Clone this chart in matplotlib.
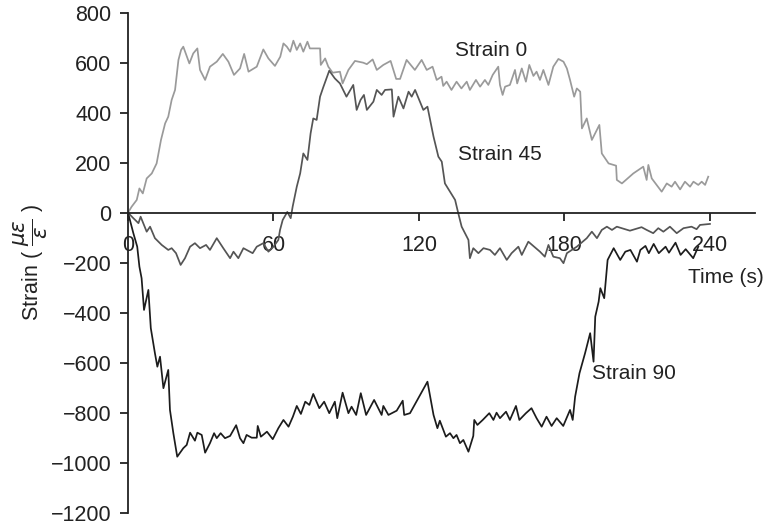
import matplotlib
matplotlib.use("Agg")
import matplotlib.pyplot as plt

plt.rcParams['font.family'] = ['Liberation Sans', 'DejaVu Sans']
plt.rcParams['mathtext.fontset'] = 'dejavusans'

# ---- data (time in s, strain in micro-strain) ----
t0 = [0, 1.5, 3.6, 4.7, 6.1, 7.7, 9.8, 11.8, 13.6, 15.3, 16.6, 18.0, 19.4, 20.8, 21.9, 22.8, 25.3, 26.9,
      28.6, 29.7, 31.8, 33.8, 36.6, 39.1, 41.4, 43.7, 46.2, 47.9, 49.7, 53.1, 55.8, 57.9, 60.6, 62.8, 64.1,
      65.5, 66.9, 68.2, 69.6, 71.0, 72.3, 74.0, 75.0, 79.2, 79.5, 81.3, 82.6, 84.4, 87.4, 88.5, 90.9, 93.6,
      97.0, 98.5, 100.9, 102.6, 105.3, 108.3, 110.6, 112.2, 114.9, 118.3, 121.1, 123.2, 125.6, 127.3, 129.3,
      130.0, 131.4, 133.4, 135.5, 137.5, 139.7, 141.0, 143.5, 145.2, 147.2, 148.6, 150.4, 152.7, 153.4, 154.5,
      155.5, 157.5, 159.6, 160.5, 162.4, 164.1, 165.5, 167.2, 168.5, 169.9, 171.3, 173.4, 175.4, 177.5, 179.6,
      181.0, 182.3, 184.0, 185.1, 186.5, 187.2, 189.2, 191.3, 194.4, 195.4, 198.2, 201.3, 201.6, 203.7, 208.4,
      212.5, 213.9, 214.6, 216.0, 220.1, 222.2, 224.2, 225.6, 227.7, 229.7, 231.8, 233.2, 235.2, 236.6, 238.0,
      239.3]
v0 = [0, 24, 51, 97, 77, 137, 157, 197, 291, 357, 384, 451, 491, 611, 651, 664, 597, 637, 657, 571, 531, 584,
      604, 635, 604, 551, 577, 635, 564, 584, 653, 617, 587, 624, 677, 664, 644, 688, 651, 677, 644, 684, 657,
      657, 591, 617, 584, 560, 564, 517, 571, 607, 600, 594, 613, 571, 591, 607, 535, 535, 611, 571, 611, 571,
      584, 531, 544, 507, 524, 491, 524, 497, 524, 491, 531, 504, 531, 511, 551, 584, 511, 471, 504, 511, 571,
      517, 577, 524, 591, 547, 564, 531, 571, 511, 584, 615, 604, 577, 531, 464, 497, 484, 337, 377, 291, 351,
      237, 197, 188, 131, 117, 157, 184, 131, 191, 137, 84, 117, 104, 124, 93, 124, 104, 124, 111, 124, 111, 144]

t45 = [0, 2.2, 4.3, 5.2, 7.7, 9.1, 11.1, 13.9, 16.6, 18.0, 19.8, 21.7, 23.5, 25.6, 27.6, 29.7, 32.2, 33.8,
       36.6, 39.3, 42.1, 43.5, 45.5, 47.6, 51.4, 53.1, 55.8, 57.9, 60.0, 62.0, 62.7, 63.8, 65.7, 67.1, 67.9,
       69.6, 71.0, 72.3, 74.0, 75.3, 76.4, 77.8, 79.2, 80.5, 83.0, 85.3, 87.4, 90.1, 92.9, 94.3, 95.9, 97.3,
       98.5, 101.2, 102.6, 104.6, 106.0, 108.8, 109.5, 111.5, 113.6, 115.7, 117.0, 118.4, 121.8, 123.5, 124.6,
       126.0, 128.0, 129.4, 130.7, 132.8, 134.9, 136.2, 137.6, 140.4, 141.0, 142.4, 144.5, 146.6, 149.3, 151.3,
       153.4, 156.2, 158.2, 161.0, 162.4, 165.1, 169.9, 171.9, 173.4, 175.4, 178.1, 179.6, 181.0, 185.1, 189.2,
       191.3, 193.4, 195.4, 197.5, 199.6, 201.6, 207.0, 211.8, 213.9, 216.6, 218.7, 220.8, 223.5, 226.3, 229.1,
       232.4, 234.5, 235.9, 240.0]
v45 = [0, -22, -42, -16, -76, -56, -102, -129, -149, -142, -162, -209, -182, -136, -122, -142, -129, -149, -102,
       -142, -182, -156, -182, -142, -162, -136, -122, -156, -136, -109, -69, -29, 3, -22, 24, 104, 157, 237, 211,
       317, 377, 371, 464, 501, 568, 537, 517, 464, 511, 411, 451, 471, 411, 444, 491, 471, 491, 493, 384, 464,
       417, 484, 464, 491, 411, 424, 371, 304, 224, 204, 117, 84, 51, -2, -56, -109, -182, -142, -162, -142,
       -149, -169, -142, -189, -162, -136, -169, -116, -156, -176, -129, -176, -182, -202, -162, -136, -102, -76,
       -102, -69, -56, -69, -56, -72, -58, -69, -82, -62, -76, -56, -82, -62, -56, -66, -49, -45]

t90 = [0, 2.2, 3.8, 4.7, 5.6, 6.6, 8.4, 9.4, 10.2, 11.1, 12.1, 13.2, 14.6, 16.6, 17.3, 18.7, 20.3, 22.8, 24.2,
       25.6, 27.6, 28.6, 30.4, 31.8, 33.8, 35.5, 36.6, 38.2, 40.0, 42.1, 44.6, 46.2, 47.6, 48.9, 51.0, 53.1,
       53.5, 54.8, 57.3, 59.7, 62.0, 64.1, 66.2, 68.0, 69.6, 71.3, 73.1, 74.8, 76.4, 78.9, 80.9, 83.0, 85.3,
       86.3, 88.5, 90.9, 92.2, 94.1, 96.0, 98.2, 101.5, 104.6, 105.3, 107.4, 110.8, 113.3, 113.9, 116.3, 123.5,
       126.0, 127.6, 128.6, 131.1, 132.8, 134.2, 135.5, 136.9, 138.3, 140.4, 142.4, 142.8, 144.1, 146.3, 149.0,
       150.7, 152.0, 153.4, 155.9, 157.5, 160.0, 161.4, 164.1, 166.4, 168.5, 170.6, 172.6, 174.7, 176.8, 179.5,
       182.3, 183.4, 184.4, 186.2, 188.5, 190.6, 192.0, 192.7, 194.1, 194.8, 196.4, 197.8, 200.3, 203.0, 205.1,
       207.2, 209.9, 211.3, 213.4, 214.8, 216.8, 218.9, 221.7, 223.1, 225.8, 227.9, 230.0, 233.1, 235.2]
v90 = [0, -82, -136, -216, -262, -389, -309, -462, -509, -562, -616, -576, -702, -629, -789, -882, -976, -942,
       -929, -880, -912, -880, -889, -960, -922, -882, -902, -882, -902, -893, -850, -902, -922, -889, -900, -900,
       -853, -896, -876, -906, -862, -829, -856, -816, -773, -805, -756, -769, -725, -782, -756, -802, -756, -822,
       -720, -802, -776, -809, -722, -809, -749, -809, -773, -809, -792, -752, -809, -802, -676, -809, -862, -832,
       -896, -882, -902, -889, -922, -909, -956, -893, -829, -849, -829, -802, -829, -800, -822, -796, -829, -773,
       -829, -802, -782, -822, -856, -816, -853, -822, -853, -789, -829, -736, -642, -562, -482, -596, -416, -356,
       -302, -342, -189, -142, -189, -156, -149, -196, -149, -133, -162, -125, -162, -136, -160, -120, -169, -146,
       -182, -136]

xticks = [0, 60, 120, 180, 240]
yticks = [800, 600, 400, 200, 0, -200, -400, -600, -800, -1000, -1200]
labels = ["Strain 0", "Strain 45", "Strain 90"]

# ---- figure ----
fig = plt.figure(figsize=(7.67, 5.26), dpi=100)
ax = fig.add_axes([0.1669, 0.0253, 0.8175, 0.9506])

ax.plot(t0, v0, color='#9a9a9a', lw=1.25)
ax.plot(t45, v45, color='#555555', lw=1.25)
ax.plot(t90, v90, color='#1c1c1c', lw=1.25)

ax.set_xlim(0, 258.6)
ax.set_ylim(-1200, 800)

for s in ['top', 'right']:
    ax.spines[s].set_visible(False)
ax.spines['bottom'].set_position(('data', 0))
for s in ['left', 'bottom']:
    ax.spines[s].set_linewidth(1.3)
    ax.spines[s].set_color('#222222')

ax.set_xticks(xticks)
ax.set_yticks(yticks)
ax.set_yticklabels([str(v).replace('-', '\u2212') for v in yticks])
ax.tick_params(axis='x', direction='out', length=6, width=1.3, pad=10, labelsize=15.5, colors='#222222')
ax.tick_params(axis='y', direction='out', length=6, width=1.3, pad=6, labelsize=15.5, colors='#222222')

ax.set_ylabel(r'Strain ( $\dfrac{\mu\varepsilon}{\varepsilon}$ )', fontsize=15.5, color='#222222')
ax.yaxis.set_label_coords(-0.125, 0.5)

ax.text(134.8, 647, labels[0], fontsize=15, va='center', ha='left', color='#222222')
ax.text(136.1, 231, labels[1], fontsize=15, va='center', ha='left', color='#222222')
ax.text(191.3, -645, labels[2], fontsize=15, va='center', ha='left', color='#222222')
ax.text(230.9, -261, "Time (s)", fontsize=15, va='center', ha='left', color='#222222')

fig.savefig("out.png", dpi=100)
